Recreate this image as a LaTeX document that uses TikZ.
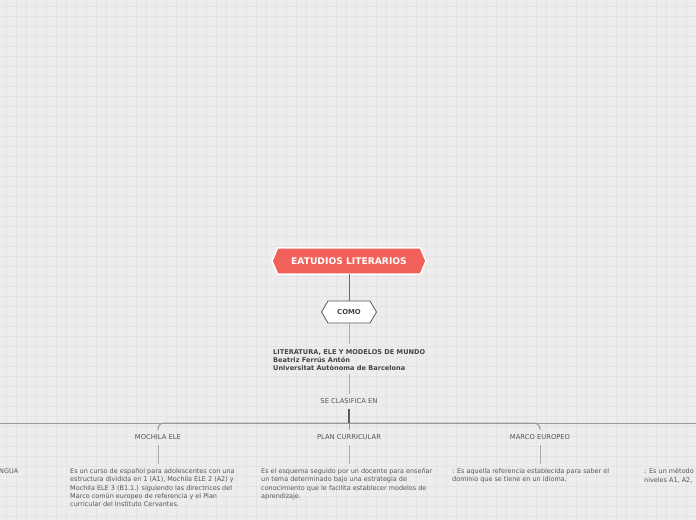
\documentclass[tikz,border=0pt]{standalone}
\usepackage{fontspec}
\setmainfont{DejaVu Sans}
\usetikzlibrary{calc}
\definecolor{bgc}{HTML}{EDEDED}
\definecolor{gridc}{HTML}{E4E4E4}
\definecolor{mainred}{HTML}{F2605A}
\definecolor{darkline}{HTML}{5A5A5A}
\definecolor{midline}{HTML}{6A6A6A}
\definecolor{busc}{HTML}{9A9A9A}
\definecolor{lightc}{HTML}{ABABAB}
\definecolor{txtdark}{HTML}{444444}
\definecolor{txtc}{HTML}{555555}
\tikzset{
  titletext/.style={font=\fontsize{9.2}{10}\selectfont\bfseries, text=white, inner sep=0pt, minimum width=154bp, minimum height=26bp},
  comotext/.style={font=\fontsize{6.9}{8}\selectfont\bfseries, text=txtdark, inner sep=0pt, minimum width=55bp, minimum height=22bp},
  blocktext/.style={font=\fontsize{6.6}{8.1}\selectfont\bfseries, text=txtdark, inner sep=0pt, align=left, anchor=north west},
  labeltext/.style={font=\fontsize{6.8}{7}\selectfont, text=txtc, inner sep=0pt, minimum height=15bp},
  desctext/.style={font=\fontsize{6.5}{8.2}\selectfont, text=txtc, inner sep=0pt, align=left, anchor=north west},
  darkconn/.style={draw=midline, line width=1bp},
  busconn/.style={draw=busc, line width=1bp, rounded corners=6bp},
  lightconn/.style={draw=lightc, line width=1bp},
}
\begin{document}
\begin{tikzpicture}[x=1bp,y=-1bp]
\useasboundingbox (0,0) rectangle (696,520);
\clip (0,0) rectangle (696,520);
\fill[bgc] (0,0) rectangle (696,520);
\foreach \i in {6,16,...,696} \draw[gridc,line width=0.6bp] (\i,0) -- (\i,520);
\foreach \j in {6,16,...,516} \draw[gridc,line width=0.6bp] (0,\j) -- (696,\j);

% hexagon shapes
\filldraw[fill=mainred, draw=white, line width=1.5bp] (272,261) -- (277.5,248) -- (420.5,248) -- (426,261) -- (420.5,274) -- (277.5,274) -- cycle;
\filldraw[fill=white, draw=darkline, line width=0.8bp] (321.5,312) -- (328,301) -- (370,301) -- (376.5,312) -- (370,323) -- (328,323) -- cycle;

% nodes
\node[titletext] (main) at (349,261) {EATUDIOS LITERARIOS};
\node[comotext] (como) at (349,312) {COMO};
\node[blocktext] (lit) at (273,349) {LITERATURA, ELE Y MODELOS DE MUNDO\\Beatriz Ferrús Antón\\Universitat Autònoma de Barcelona};
\node[labeltext] (se) at (349,401.5) {SE CLASIFICA EN};
\coordinate (hub) at (349,423);
\coordinate (offl) at (-60,423);
\coordinate (offr) at (760,423);

\node[labeltext] (moch) at (158,437.5) {MOCHILA ELE};
\node[labeltext] (plan) at (349,437.5) {PLAN CURRICULAR};
\node[labeltext] (marco) at (540,437.5) {MARCO EUROPEO};

\node[desctext] (mdesc) at (70,468.5) {Es un curso de español para adolescentes con una\\estructura dividida en 1 (A1), Mochila ELE 2 (A2) y\\Mochila ELE 3 (B1.1.) siguiendo las directrices del\\Marco común europeo de referencia y el Plan\\curricular del Instituto Cervantes.};
\node[desctext] (pdesc) at (261,468.5) {Es el esquema seguido por un docente para enseñar\\un tema determinado bajo una estrategia de\\conocimiento que le facilita establecer modelos de\\aprendizaje.};
\node[desctext] (edesc) at (452,468.5) {: Es aquella referencia establecida para saber el\\dominio que se tiene en un idioma.};
\node[desctext] (ldesc) at (-1,468.5) {NGUA};
\node[desctext] (rdesc) at (644,468.5) {: Es un método\\niveles A1, A2,};

% connectors
\draw[darkconn] (main.south) -- (como.north);
\draw[lightconn] (como.south) -- ($(como.south |- lit.north)+(0,-5)$);
\draw[lightconn] ($(lit.south -| como.south)+(0,3)$) -- (se.north);
\draw[busconn] (hub) -- (offl);
\draw[busconn] (hub) -- (offr);
\draw[busconn] (hub) -| (moch.north);
\draw[busconn] (hub) -| (marco.north);
\draw[busconn] (hub) -- (plan.north);
\draw[darkline, line width=1.6bp] (se.south) -- (hub);
\draw[lightconn] (moch.south) -- ($(moch.south |- mdesc.north)+(0,-5)$);
\draw[lightconn] (plan.south) -- ($(plan.south |- pdesc.north)+(0,-5)$);
\draw[lightconn] (marco.south) -- ($(marco.south |- edesc.north)+(0,-5)$);
\end{tikzpicture}
\end{document}
